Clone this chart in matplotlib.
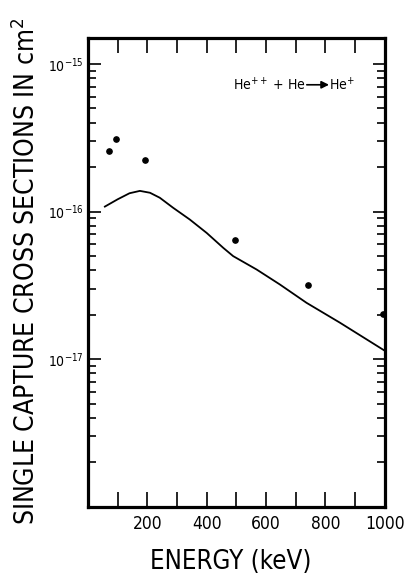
import matplotlib
matplotlib.use("Agg")
import matplotlib.pyplot as plt
from matplotlib.ticker import FixedLocator, LogLocator, NullFormatter

plt.rcParams["font.family"] = ["DejaVu Sans"]
plt.rcParams["font.stretch"] = "condensed"
plt.rcParams["mathtext.fontset"] = "custom"
plt.rcParams["mathtext.rm"] = "DejaVu Sans:stretch=condensed"
plt.rcParams["mathtext.it"] = "DejaVu Sans:stretch=condensed"
plt.rcParams["mathtext.bf"] = "DejaVu Sans:stretch=condensed"

# Theory curve
curve_energy = [57, 100, 140, 175, 209, 242, 287, 343, 400, 456, 489,
                568, 646, 736, 848, 1000]
curve_sigma = [1.08e-16, 1.21e-16, 1.33e-16, 1.38e-16, 1.34e-16, 1.24e-16,
               1.06e-16, 8.83e-17, 7.16e-17, 5.67e-17, 4.99e-17,
               4.05e-17, 3.21e-17, 2.41e-17, 1.77e-17, 1.14e-17]

# Experimental points
data_energy = [70, 95, 193, 495, 740, 995]
data_sigma = [2.59e-16, 3.08e-16, 2.24e-16, 6.4e-17, 3.2e-17, 2.03e-17]

xtick_labels = [200, 400, 600, 800, 1000]
ytick_values = [1e-17, 1e-16, 1e-15]

fig = plt.figure(figsize=(4.09, 5.74), dpi=100)
ax = fig.add_axes([0.215, 0.117, 0.726, 0.817])

ax.plot(curve_energy, curve_sigma, color="black", lw=1.3)
ax.plot(data_energy, data_sigma, "o", color="black", ms=3.8, clip_on=False)

ax.set_yscale("log")
ax.set_xlim(0, 1000)
ax.set_ylim(1e-18, 1.5e-15)

ax.xaxis.set_major_locator(FixedLocator(xtick_labels))
ax.xaxis.set_minor_locator(FixedLocator([100, 300, 500, 700, 900]))
ax.set_xticklabels([str(v) for v in xtick_labels])
ax.yaxis.set_major_locator(FixedLocator(ytick_values))
ax.set_yticklabels(["$10^{-17}$", "$10^{-16}$", "$10^{-15}$"])
ax.yaxis.set_minor_locator(LogLocator(base=10, subs=range(2, 10), numticks=20))
ax.yaxis.set_minor_formatter(NullFormatter())

ax.tick_params(axis="both", which="both", direction="in", top=True, right=True,
               width=1.2)
ax.tick_params(axis="x", which="both", length=11, pad=6, labelsize=12.5)
ax.tick_params(axis="y", which="major", length=9, pad=3, labelsize=10)
ax.tick_params(axis="y", which="minor", length=6)

for s in ax.spines.values():
    s.set_linewidth(2.3)

# reaction label: He++ + He -> He+
t1 = ax.text(0.488, 0.90, "He$^{++}$ + He", transform=ax.transAxes,
             fontsize=10, va="center", ha="left")
t2 = ax.annotate("He$^{+}$", xy=(1, 0.5), xycoords=t1, xytext=(17, 0),
                 textcoords="offset points", fontsize=10, va="center", ha="left")
ax.annotate("", xy=(0, 0.5), xycoords=t2, xytext=(1, 0.5), textcoords=t1,
            arrowprops=dict(arrowstyle="-|>", color="black", lw=1.2,
                            mutation_scale=11, shrinkA=1, shrinkB=0))

fig.text(27 / 409, 1 - 271 / 574, "SINGLE CAPTURE CROSS SECTIONS IN cm$^2$",
         rotation=90, ha="center", va="center", fontsize=19)
fig.text(231 / 409, 1 - 562 / 574, "ENERGY (keV)",
         ha="center", va="center", fontsize=18.5)

fig.savefig("out.png", dpi=100)
